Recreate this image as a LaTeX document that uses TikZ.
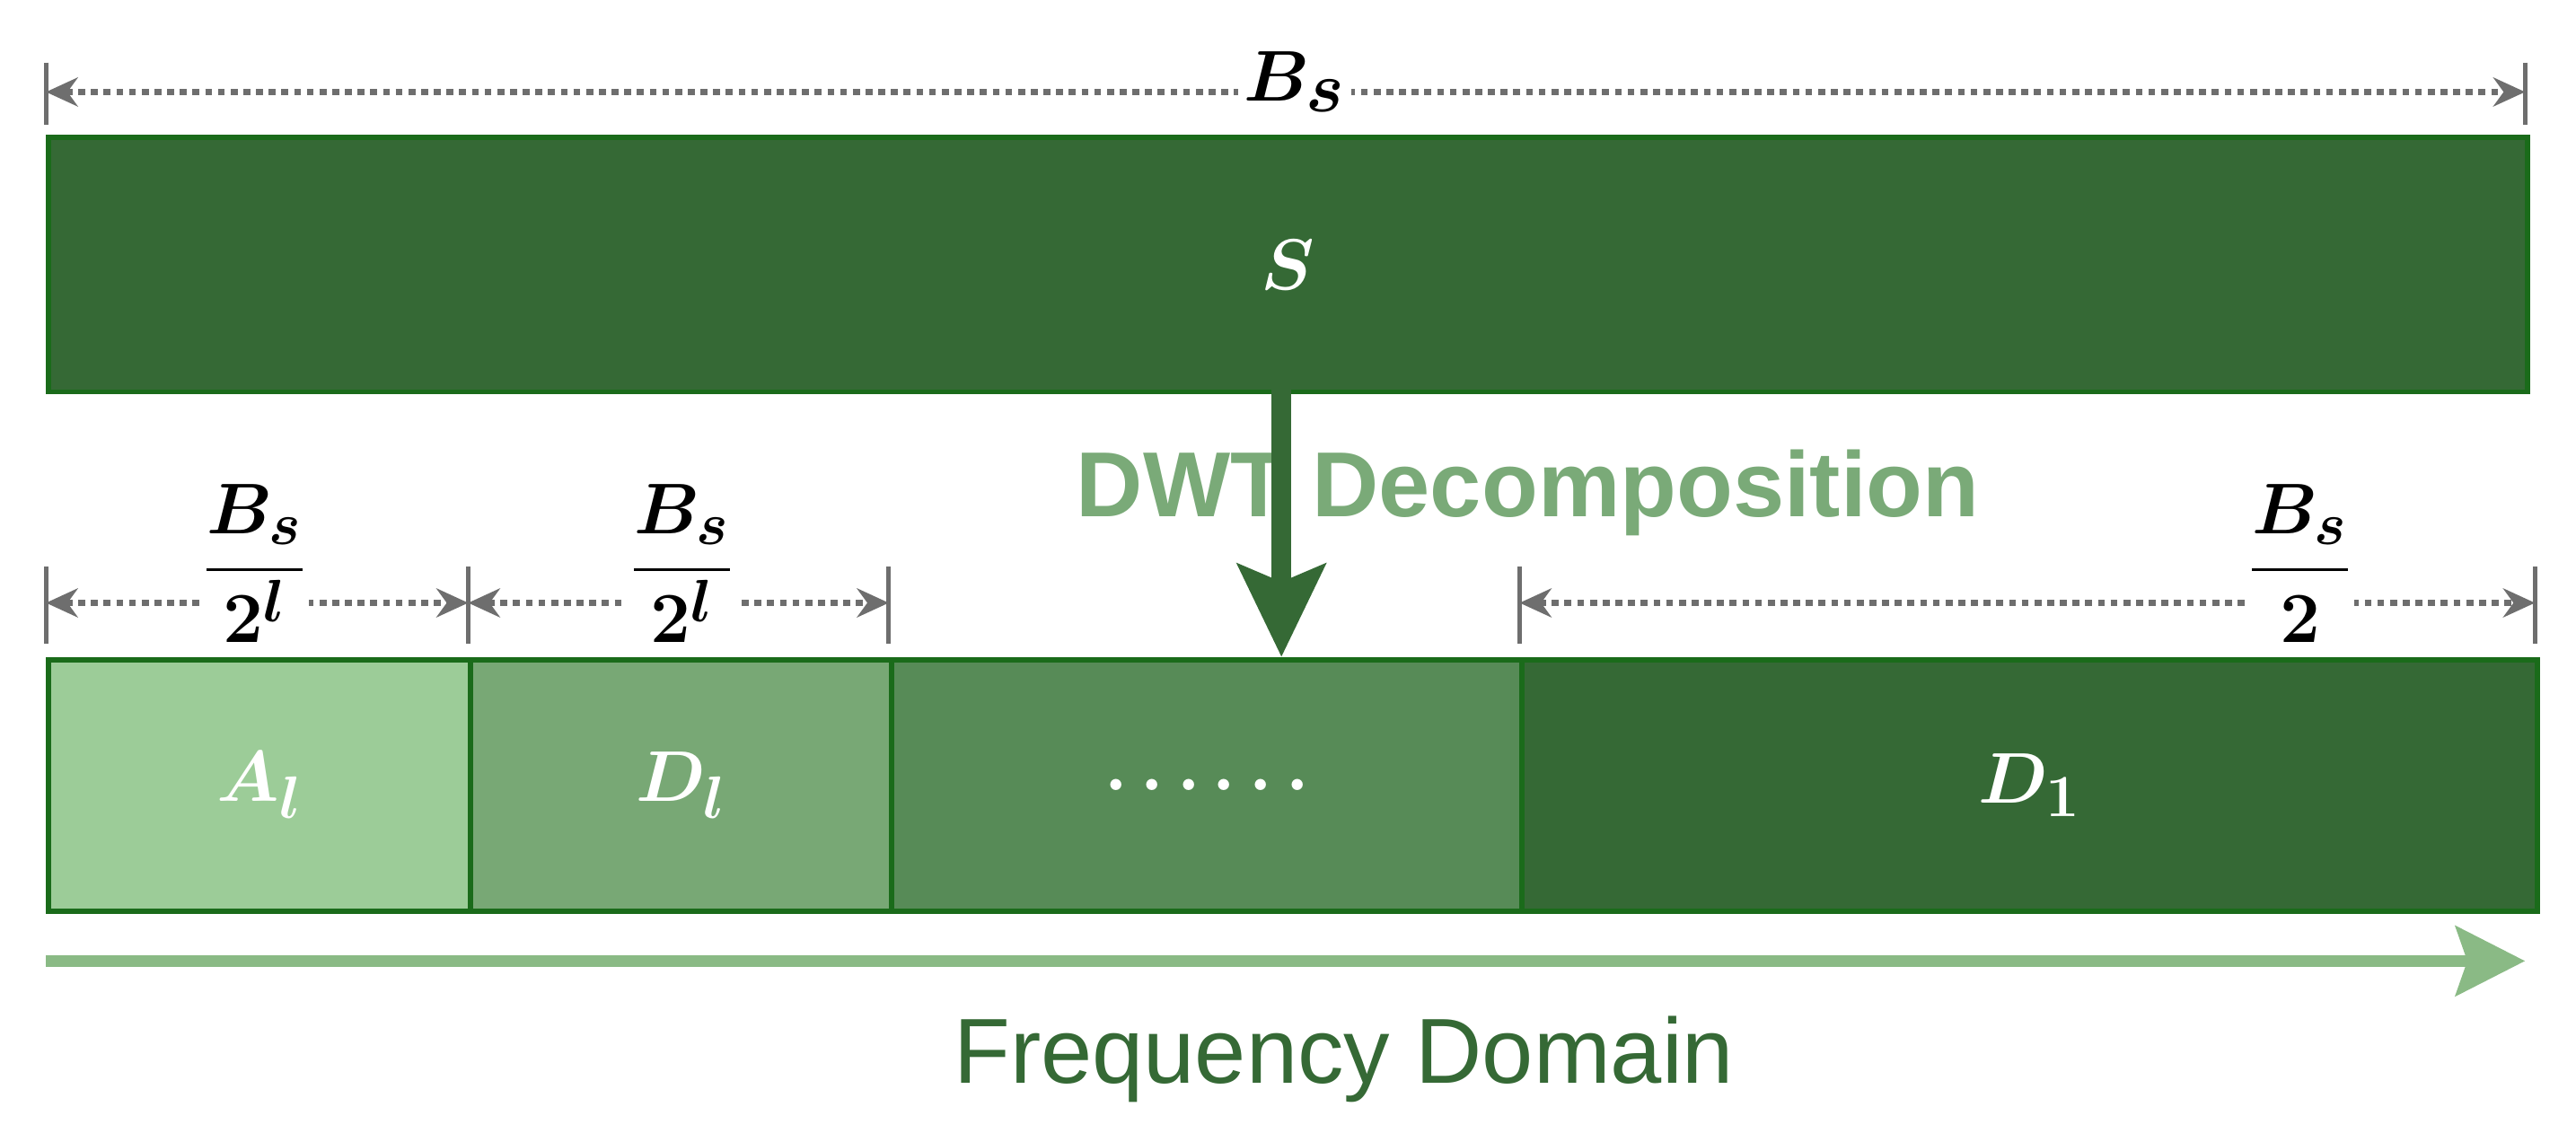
\documentclass[tikz,border=0pt]{standalone}
\usepackage{amsmath,bm}
\usepackage{fontspec}
\setmainfont{Liberation Sans}
\usetikzlibrary{arrows.meta,positioning}
\definecolor{gDark}{HTML}{356935}
\definecolor{gEdge}{HTML}{1A6B1A}
\definecolor{gMid}{HTML}{578B57}
\definecolor{gSoft}{HTML}{78A875}
\definecolor{gLight}{HTML}{9CCC98}
\definecolor{gLine}{HTML}{8ABA85}
\definecolor{gText}{HTML}{7AAA78}
\definecolor{dimGray}{HTML}{6E6E6E}
\tikzset{
  band/.style={draw=gEdge,line width=1.8pt,anchor=north west,inner sep=0pt,text=white},
  dim/.style={dimGray,line width=2.4pt,dotted,{Stealth[length=11pt,width=10pt]}-{Stealth[length=11pt,width=10pt]}},
  tick/.style={dimGray,line width=1.6pt},
}
\begin{document}
\begin{tikzpicture}[x=0.02cm,y=-0.02cm]
  \useasboundingbox[fill=white] (0,0) rectangle (1568,695);
  % signal band
  \node[band,fill=gDark,minimum width=30.18cm,minimum height=3.1cm] (S) at (28,82)
    {\fontsize{50}{54}\selectfont$\bm{S}$};
  % sub-bands
  \node[band,fill=gLight,minimum width=5.14cm,minimum height=3.06cm] (A) at (28,400)
    {\fontsize{32}{36}\selectfont$\bm{A_l}$};
  \node[band,fill=gSoft,minimum width=5.12cm,minimum height=3.06cm] (Dl) at (285,400)
    {\fontsize{32}{36}\selectfont$\bm{D_l}$};
  \node[band,fill=gMid,minimum width=7.68cm,minimum height=3.06cm] (dots) at (541,400)
    {\fontsize{32}{36}\selectfont$\bm{\ldots\ldots}$};
  \node[band,fill=gDark,minimum width=12.36cm,minimum height=3.06cm] (D1) at (925,400)
    {\fontsize{32}{36}\selectfont$\bm{D_1}$};
  % bandwidth of S
  \coordinate (t0) at (28,56);
  \coordinate (t1) at (1537,56);
  \draw[tick] (28,38) -- (28,76) (1537,38) -- (1537,76);
  \draw[dim] (t0) -- (t1);
  \node[fill=white,inner sep=2pt] (Bs) at (788,50) {\fontsize{38}{42}\selectfont$\bm{B_s}$};
  % bandwidths of sub-bands
  \coordinate (a0) at (28,367);
  \coordinate (a1) at (285,367);
  \coordinate (a2) at (541,367);
  \coordinate (a3) at (925,367);
  \coordinate (a4) at (1543,367);
  \draw[tick] (28,345) -- (28,392) (285,345) -- (285,392) (541,345) -- (541,392)
    (925,345) -- (925,392) (1543,345) -- (1543,392);
  \draw[dim] (a0) -- (a1);
  \draw[dim] (a1) -- (a2);
  \draw[dim] (a3) -- (a4);
  \node[fill=white,inner sep=1pt] (fA) at (155,343) {\fontsize{28}{32}\selectfont$\bm{\dfrac{B_s}{2^l}}$};
  \node[fill=white,inner sep=1pt] (fD) at (415,343) {\fontsize{28}{32}\selectfont$\bm{\dfrac{B_s}{2^l}}$};
  \node[fill=white,inner sep=1pt] (f1) at (1400,343) {\fontsize{28}{32}\selectfont$\bm{\dfrac{B_s}{2}}$};
  % decomposition
  \node[text=gText,font=\bfseries\fontsize{32}{36}\selectfont] (dwt) at (930,300) {DWT Decomposition};
  \draw[gDark,line width=7pt,-{Stealth[length=32pt,width=30pt,inset=6pt]}] (780,237) -- (dots.north -| 780,0);
  % frequency axis
  \coordinate (f0) at (28,585);
  \coordinate (f1e) at (1537,585);
  \draw[gLine,line width=4pt,-{Stealth[length=24pt,width=24pt,inset=4pt]}] (f0) -- (f1e);
  \node[text=gDark,font=\fontsize{32}{36}\selectfont] (fd) at (818,645) {Frequency Domain};
\end{tikzpicture}
\end{document}
